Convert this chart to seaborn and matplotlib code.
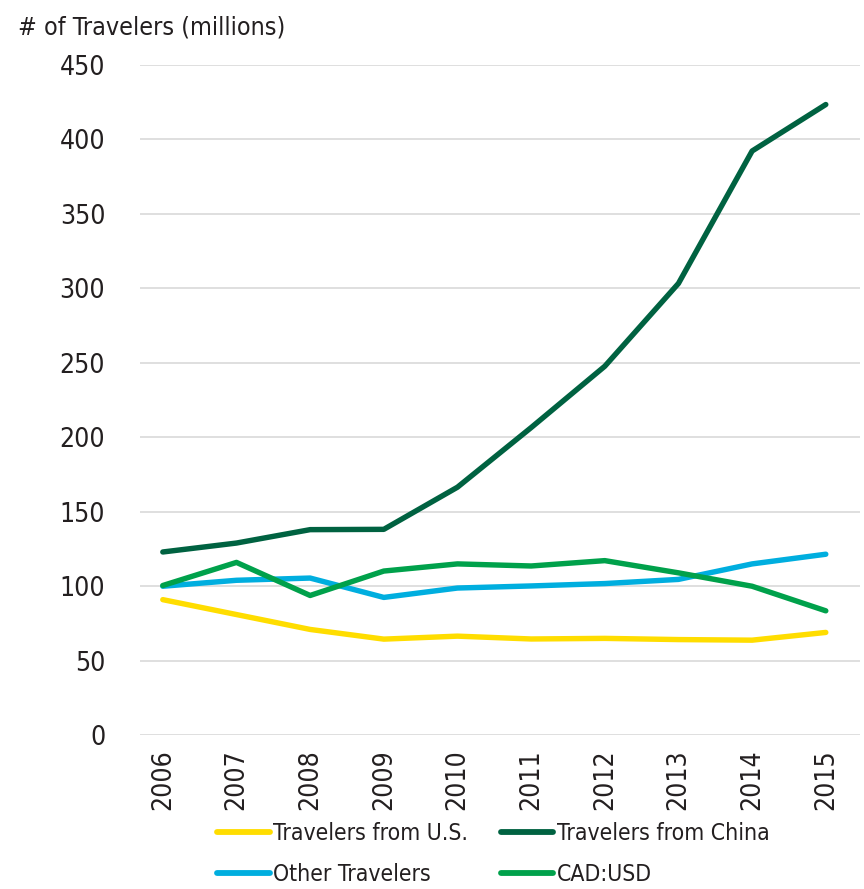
import matplotlib
matplotlib.use("Agg")
import matplotlib.pyplot as plt
import seaborn as sns
import pandas as pd
from matplotlib.lines import Line2D

years = [2006, 2007, 2008, 2009, 2010, 2011, 2012, 2013, 2014, 2015]
us = [91, 81, 71, 64.5, 66.5, 64.6, 65, 64.2, 63.8, 69]
china = [123, 129, 138, 138.2, 166.5, 206.5, 247.7, 303.3, 392.2, 423.4]
other = [100, 104, 105.5, 92.5, 98.8, 100.2, 101.8, 104.6, 115, 121.5]
cad = [100.5, 116, 93.8, 110.2, 115, 113.6, 117.2, 109, 100, 83.5]
series_names = ["Travelers from U.S.", "Travelers from China", "Other Travelers", "CAD:USD"]
colors = ["#FFDD00", "#006241", "#00AEDF", "#00A14B"]
yticks = [0, 50, 100, 150, 200, 250, 300, 350, 400, 450]

df = pd.concat([
    pd.DataFrame({"year": years, "value": vals, "series": name})
    for name, vals in zip(series_names, [us, china, other, cad])
])

sns.set_theme(style="white")
plt.rcParams["font.family"] = ["DejaVu Sans"]
plt.rcParams["font.stretch"] = "condensed"

fig = plt.figure(figsize=(8.64, 8.89), dpi=100)
ax = fig.add_axes([0.162, 0.173, 0.833, 0.754])

sns.lineplot(data=df, x="year", y="value", hue="series", hue_order=series_names,
             palette=colors, linewidth=3.9, ax=ax, legend=False,
             solid_capstyle="round")

ax.set_ylim(0, 450)
ax.set_xlim(2005.69, 2015.46)
ax.set_yticks(yticks)
ax.set_yticklabels([str(t) for t in yticks], fontsize=19, color="#231F20")
ax.set_xticks(years)
ax.set_xticklabels([str(y) for y in years], rotation=90, fontsize=19, color="#231F20")
ax.tick_params(axis="y", pad=25, length=0)
ax.tick_params(axis="x", pad=10, length=0)
ax.grid(axis="y", color="#D9D9D9", linewidth=1.2)
ax.set_axisbelow(True)
for s in ax.spines.values():
    s.set_visible(False)
ax.set_xlabel("")
ax.set_ylabel("")

fig.text(0.021, 0.969, "# of Travelers (millions)", fontsize=18, color="#231F20",
         ha="left", va="center")

handles = [Line2D([0], [0], color=c, linewidth=4.2, solid_capstyle="round") for c in colors]
order = [0, 2, 1, 3]
fig.legend([handles[i] for i in order], [series_names[i] for i in order],
           loc="center", bbox_to_anchor=(0.571, 0.039), ncol=2, frameon=False,
           fontsize=16.5, handlelength=2.3, handletextpad=0.15, columnspacing=1.4,
           labelspacing=0.8, labelcolor="#231F20")

fig.savefig("out.png", dpi=100)
